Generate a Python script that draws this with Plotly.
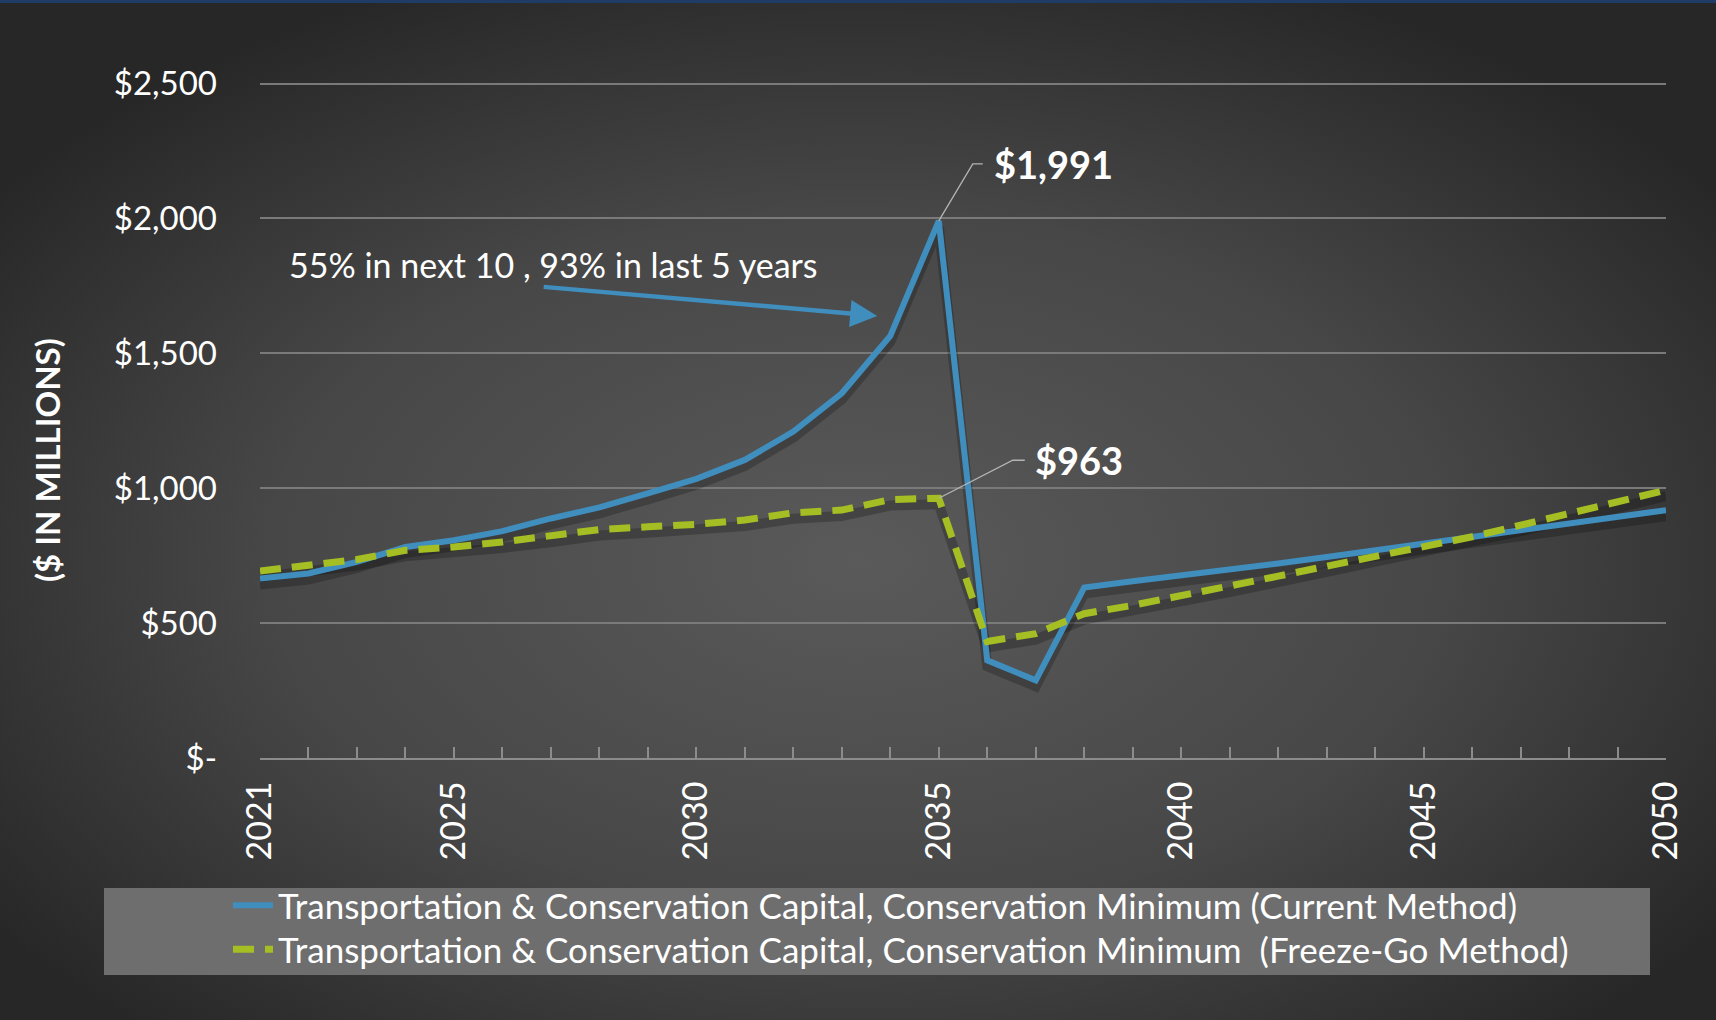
import base64
import plotly.graph_objects as go

# ---- data ($ in millions) ----
years = list(range(2021, 2051))
current_method = [665, 684, 727, 782, 807, 841, 888, 929, 981, 1035,
                  1105, 1210, 1352, 1565, 1991, 362, 288, 632, 655, 676,
                  699, 721, 745, 770, 795, 815, 840, 865, 893, 919]
freeze_go = [693, 712, 736, 770, 782, 801, 822, 847, 857, 866,
             882, 909, 919, 958, 963, 432, 461, 535, 566, 600,
             637, 674, 711, 748, 782, 820, 863, 906, 950, 993]

series_names = [
    "Transportation & Conservation Capital, Conservation Minimum (Current Method)",
    "Transportation & Conservation Capital, Conservation Minimum  (Freeze-Go Method)",
]
labeled_years = [2021, 2025, 2030, 2035, 2040, 2045, 2050]
y_tick_values = [0, 500, 1000, 1500, 2000, 2500]
y_tick_labels = ["$-", "$500", "$1,000", "$1,500", "$2,000", "$2,500"]
callout_text = "55% in next 10 , 93% in last 5 years"
y_title = "($ IN MILLIONS)"

# ---- geometry / style ----
W, H = 1716, 1020
L, R, T, B = 260, 50, 82, 262
PW, PH = W - L - R, H - T - B
Y_MAX = 2506          # a little headroom so the top gridline is drawn
X_MIN, X_MAX = years[0], years[-1]

BLUE = "#408EBE"
GREEN = "#A5BE23"
GRID = "#7a7a7a"
AXIS = "#8c8c8c"
FONT = "Lato"

x_per_px = (X_MAX - X_MIN) / PW
y_per_px = Y_MAX / PH


def paper_x(px):
    return (px - L) / PW


def paper_y(py):
    return (H - B - py) / PH


# radial-gradient backdrop with a thin navy strip along the top edge
svg = f"""<svg xmlns="http://www.w3.org/2000/svg" width="{W}" height="{H}" viewBox="0 0 {W} {H}" preserveAspectRatio="none">
<defs><radialGradient id="g" cx="0.5" cy="0.55" r="0.62">
<stop offset="0" stop-color="#5a5a5a"/><stop offset="0.55" stop-color="#474747"/><stop offset="1" stop-color="#272727"/>
</radialGradient></defs>
<rect width="{W}" height="{H}" fill="url(#g)"/>
<rect width="{W}" height="3" fill="#1f3c66"/>
</svg>"""
bg_uri = "data:image/svg+xml;base64," + base64.b64encode(svg.encode()).decode()

fig = go.Figure()

# soft drop shadows beneath both lines
drop = 6 * y_per_px
for vals in (current_method, freeze_go):
    fig.add_trace(go.Scatter(
        x=years, y=[v - drop for v in vals], mode="lines",
        line=dict(color="rgba(0,0,0,0.22)", width=10),
        showlegend=False, hoverinfo="skip"))

fig.add_trace(go.Scatter(
    x=years, y=current_method, mode="lines", name=series_names[0],
    line=dict(color=BLUE, width=6), legend="legend"))
fig.add_trace(go.Scatter(
    x=years, y=freeze_go, mode="lines", name=series_names[1],
    line=dict(color=GREEN, width=7, dash="21px,11px"), legend="legend2"))

# value callouts at the peak year
peak_i = current_method.index(max(current_method))
peak_year = years[peak_i]
callouts = [
    (current_method[peak_i], 34, -57, 10, 9),
    (freeze_go[peak_i], 74, -38, 12, 8),
]
shapes = []
annotations = []
for val, dx, dy, run, gap in callouts:
    ex = peak_year + dx * x_per_px
    ey = val - dy * y_per_px
    hx = ex + run * x_per_px
    shapes.append(dict(
        type="path", xref="x", yref="y",
        path=f"M {peak_year},{val} L {ex},{ey} L {hx},{ey}",
        line=dict(color="#b4b4b4", width=1.3)))
    annotations.append(dict(
        x=hx + gap * x_per_px, y=ey, xref="x", yref="y",
        text=f"<b>${val:,}</b>", showarrow=False,
        xanchor="left", yanchor="middle",
        font=dict(family=FONT, size=38, color="white")))

# growth note with its arrow
annotations.append(dict(
    x=2021.55, y=1828, xref="x", yref="y", text=callout_text,
    showarrow=False, xanchor="left", yanchor="middle",
    font=dict(family=FONT, size=34, color="white")))
annotations.append(dict(
    x=2033.73, y=1639, ax=2026.82, ay=1747, xref="x", yref="y",
    axref="x", ayref="y", text="", showarrow=True,
    arrowhead=2, arrowsize=1.2, arrowwidth=4.5, arrowcolor=BLUE))

# vertical axis caption
annotations.append(dict(
    x=paper_x(47), y=paper_y(460), xref="paper", yref="paper",
    text=f"<b>{y_title}</b>", textangle=-90, showarrow=False,
    xanchor="center", yanchor="middle",
    font=dict(family=FONT, size=33, color="white")))

# legend panel
shapes.append(dict(
    type="rect", xref="paper", yref="paper", layer="below",
    x0=paper_x(104), x1=paper_x(1650), y0=paper_y(975), y1=paper_y(888),
    fillcolor="#6e6e6e", line=dict(width=0)))

legend_style = dict(
    xanchor="left", yanchor="top", bgcolor="rgba(0,0,0,0)",
    font=dict(family=FONT, size=35, color="white"), itemwidth=40)

fig.update_layout(
    width=W, height=H,
    margin=dict(l=L, r=R, t=T, b=B, autoexpand=False),
    paper_bgcolor="#2b2b2b", plot_bgcolor="rgba(0,0,0,0)",
    font=dict(family=FONT, color="white", size=30),
    images=[dict(source=bg_uri, xref="paper", yref="paper",
                 x=-L / PW, y=1 + T / PH, sizex=W / PW, sizey=H / PH,
                 xanchor="left", yanchor="top", sizing="stretch",
                 layer="below")],
    shapes=shapes,
    annotations=annotations,
    showlegend=True,
    legend=dict(x=paper_x(228), y=paper_y(876), **legend_style),
    legend2=dict(x=paper_x(228), y=paper_y(920), **legend_style),
    xaxis=dict(
        range=[X_MIN, X_MAX], showgrid=False, zeroline=False,
        showline=True, linecolor=AXIS, linewidth=2,
        tickmode="array", tickvals=years,
        ticktext=[str(y) if y in labeled_years else "" for y in years],
        ticks="inside", ticklen=11, tickwidth=1.5, tickcolor=AXIS,
        tickangle=-90, ticklabelstandoff=8,
        tickfont=dict(family=FONT, size=34, color="white")),
    yaxis=dict(
        range=[0, Y_MAX], showgrid=True, gridcolor=GRID, gridwidth=1.5,
        zeroline=False, showline=False, ticks="",
        tickmode="array", tickvals=y_tick_values, ticktext=y_tick_labels,
        ticklabelstandoff=42,
        tickfont=dict(family=FONT, size=33, color="white")),
)

fig.write_html("out.html")
